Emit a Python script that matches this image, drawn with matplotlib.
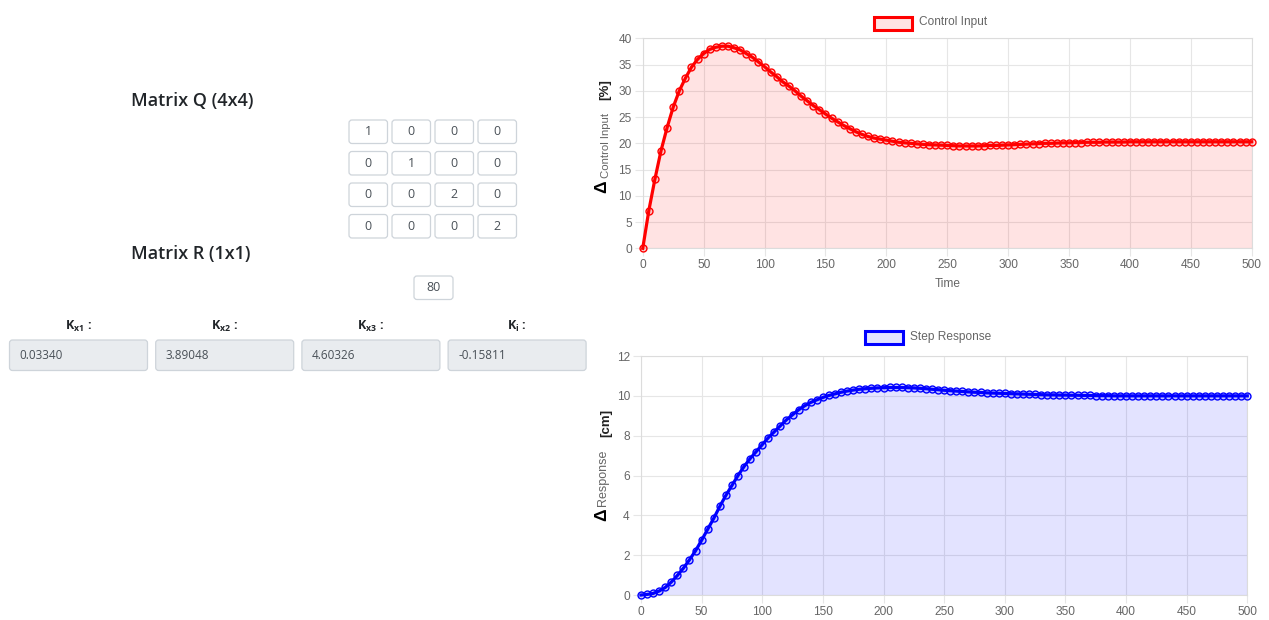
import matplotlib
matplotlib.use("Agg")
import matplotlib.pyplot as plt
from matplotlib.patches import FancyBboxPatch, Rectangle

plt.rcParams['font.family'] = ['Liberation Sans', 'DejaVu Sans']
plt.rcParams['mathtext.fontset'] = 'custom'
plt.rcParams['mathtext.rm'] = 'Open Sans'
plt.rcParams['mathtext.bf'] = 'Open Sans:bold'

# ---- data ----
time = list(range(0, 505, 5))

control_input = [
    0.0, 7.2, 13.2, 18.6, 23.0, 26.9, 30.0, 32.4, 34.5, 36.0,
    37.1, 37.9, 38.3, 38.5, 38.5, 38.2, 37.8, 37.1, 36.4, 35.5,
    34.6, 33.6, 32.7, 31.7, 30.9, 30.0, 29.0, 28.1, 27.2, 26.4,
    25.6, 24.8, 24.1, 23.4, 22.8, 22.2, 21.7, 21.3, 21.0, 20.8,
    20.6, 20.4, 20.2, 20.1, 20.0, 19.9, 19.8, 19.75, 19.7, 19.65,
    19.6, 19.55, 19.5, 19.5, 19.5, 19.5, 19.55, 19.6, 19.6, 19.65,
    19.7, 19.75, 19.8, 19.85, 19.9, 19.95, 20.0, 20.0, 20.05, 20.1,
    20.1, 20.15, 20.15, 20.2, 20.2, 20.2, 20.25, 20.25, 20.25, 20.25,
    20.3, 20.3, 20.3, 20.3, 20.3, 20.3, 20.3, 20.3, 20.3, 20.3,
    20.3, 20.3, 20.3, 20.3, 20.3, 20.3, 20.3, 20.3, 20.3, 20.3,
    20.3,
]

step_response = [
    0.0, 0.03, 0.08, 0.2, 0.38, 0.65, 0.98, 1.35, 1.77, 2.22,
    2.75, 3.3, 3.85, 4.45, 5.0, 5.5, 6.0, 6.45, 6.85, 7.2,
    7.55, 7.9, 8.2, 8.5, 8.8, 9.05, 9.3, 9.5, 9.67, 9.8,
    9.92, 10.02, 10.1, 10.18, 10.24, 10.29, 10.33, 10.36, 10.38, 10.4,
    10.41, 10.42, 10.42, 10.42, 10.41, 10.4, 10.38, 10.36, 10.33, 10.31,
    10.28, 10.26, 10.24, 10.22, 10.2, 10.18, 10.17, 10.15, 10.14, 10.13,
    10.12, 10.11, 10.1, 10.09, 10.08, 10.07, 10.06, 10.05, 10.05, 10.04,
    10.04, 10.03, 10.03, 10.02, 10.02, 10.01, 10.01, 10.01, 10.0, 10.0,
    10.0, 10.0, 10.0, 10.0, 10.0, 10.0, 10.0, 10.0, 10.0, 10.0,
    10.0, 10.0, 10.0, 10.0, 10.0, 10.0, 10.0, 10.0, 10.0, 10.0,
    10.0,
]

q_matrix = [[1, 0, 0, 0],
            [0, 1, 0, 0],
            [0, 0, 2, 0],
            [0, 0, 0, 2]]
r_value = 80
gain_subs = ['x1', 'x2', 'x3', 'i']
gain_values = ['0.03340', '3.89048', '4.60326', '-0.15811']

# ---- figure ----
fig = plt.figure(figsize=(12.69, 6.2), dpi=100)

# pixel-space overlay for the form part and the legends
bg = fig.add_axes([0, 0, 1, 1])
bg.set_xlim(0, 1269)
bg.set_ylim(620, 0)
bg.axis('off')

form_font = 'Open Sans'
bg.text(131, 101, 'Matrix Q (4x4)', fontsize=13, fontweight='semibold',
        family=form_font, color='#212529', va='center')
bg.text(131, 254, 'Matrix R (1x1)', fontsize=13, fontweight='semibold',
        family=form_font, color='#212529', va='center')


def input_box(x, y, w, h, txt, fill='white', align='center', size=9):
    bg.add_patch(FancyBboxPatch((x, y), w, h, boxstyle='round,pad=0,rounding_size=3',
                                fc=fill, ec='#ced4da', lw=0.9))
    if align == 'center':
        bg.text(x + w / 2, y + h / 2, txt, fontsize=size, family=form_font,
                color='#495057', ha='center', va='center')
    else:
        bg.text(x + 10, y + h / 2, txt, fontsize=size, family=form_font,
                color='#495057', ha='left', va='center')


for i, row in enumerate(q_matrix):
    for j, val in enumerate(row):
        input_box(349 + j * 43, 120 + i * 31.5, 38.5, 23.5, str(val))

input_box(414, 276, 39, 23.5, str(r_value))

for k, (sub, val) in enumerate(zip(gain_subs, gain_values)):
    x0 = 9.5 + k * 146.2
    bg.text(x0 + 69, 326, r'$\mathbf{K_{%s}}$ :' % sub, fontsize=9,
            fontweight='bold', family=form_font, color='#212529',
            ha='center', va='center')
    input_box(x0, 340, 138, 30.5, val, fill='#e9ecef', align='left', size=8.5)


def style_chart(ax, ymax, ystep):
    ax.set_xlim(0, 500)
    ax.set_ylim(0, ymax)
    ax.set_xticks(range(0, 501, 50))
    ax.set_yticks(range(0, ymax + 1, ystep))
    ax.grid(True, color='#e6e6e6', lw=0.8)
    ax.set_axisbelow(True)
    for s in ax.spines.values():
        s.set_color('#dcdcdc')
        s.set_linewidth(0.8)
    ax.tick_params(length=6, color='#e6e6e6', labelsize=8.6,
                   labelcolor='#666666', pad=2)


# top chart: control input
ax1 = fig.add_axes([0.5065, 0.5995, 0.4799, 0.3387])
ax1.fill_between(time, 0, control_input, color=(1, 0, 0, 0.11), lw=0)
ax1.plot(time, control_input, color='red', lw=2.3, marker='o', ms=5,
         mfc=(1, 0, 0, 0.15), mec='red', mew=1.0, clip_on=False, zorder=3)
style_chart(ax1, 40, 5)
ax1.set_xlabel('Time', fontsize=8.6, color='#666666', labelpad=5)

# bottom chart: step response
ax2 = fig.add_axes([0.5051, 0.0403, 0.4778, 0.3855])
ax2.fill_between(time, 0, step_response, color=(0, 0, 1, 0.11), lw=0)
ax2.plot(time, step_response, color='blue', lw=2.3, marker='o', ms=5,
         mfc=(0, 0, 1, 0.15), mec='blue', mew=1.0, clip_on=False, zorder=3)
style_chart(ax2, 12, 2)

# legends
bg.add_patch(Rectangle((874, 17), 38, 12.5, fc=(1, 0, 0, 0.11), ec='red', lw=2.2))
bg.text(919, 22.5, 'Control Input', fontsize=8.6, color='#666666', va='center')
bg.add_patch(Rectangle((865, 331), 38, 13, fc=(0, 0, 1, 0.11), ec='blue', lw=2.2))
bg.text(910, 337, 'Step Response', fontsize=8.6, color='#666666', va='center')

# y axis labels
bg.text(602, 186.5, '\u0394', rotation=90, fontsize=12.5, fontweight='bold',
        color='black', ha='center', va='center')
bg.text(606, 145.5, 'Control Input', rotation=90, fontsize=8.2,
        color='#666666', ha='center', va='center')
bg.text(605.5, 90, '[%]', rotation=90, fontsize=9.5, fontweight='bold',
        color='#222222', ha='center', va='center')

bg.text(602, 515, '\u0394', rotation=90, fontsize=12.5, fontweight='bold',
        color='black', ha='center', va='center')
bg.text(602.5, 477.5, 'Response', rotation=90, fontsize=9,
        color='#666666', ha='center', va='center')
bg.text(606, 422.5, '[cm]', rotation=90, fontsize=9.5, fontweight='bold',
        color='#222222', ha='center', va='center')

fig.savefig('out.png', dpi=100)
